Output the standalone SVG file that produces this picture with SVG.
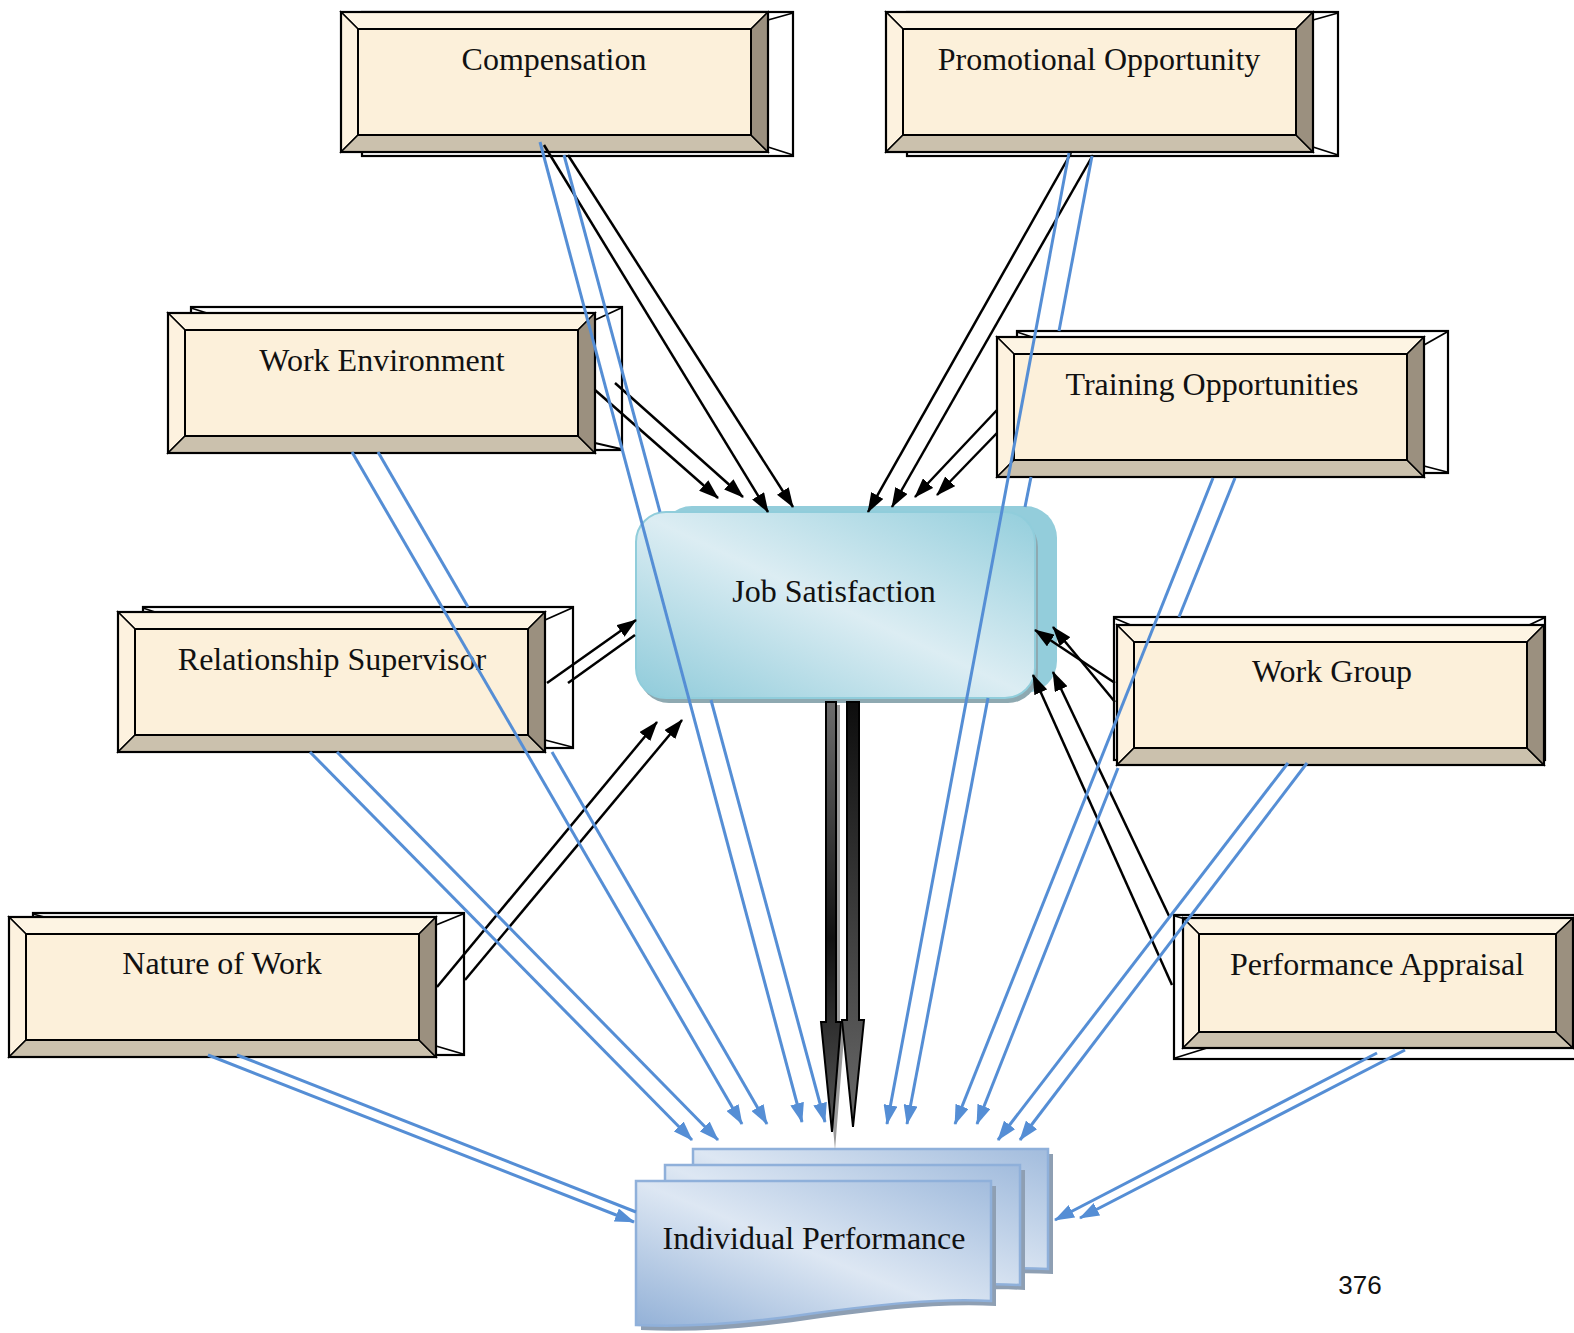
<svg xmlns="http://www.w3.org/2000/svg" width="1574" height="1333" viewBox="0 0 1574 1333">
<style>
.t{font-family:"Liberation Serif","Times New Roman",serif;font-size:32px;fill:#111;text-anchor:middle}
.face{fill:#fcf0da}
.bt{fill:#fdf4e3;stroke:#000;stroke-width:1.5}
.bl{fill:#fdf2df;stroke:#000;stroke-width:1.5}
.bb{fill:#cbc1ad;stroke:#000;stroke-width:1.5}
.br{fill:#9b907f;stroke:#000;stroke-width:1.5}
.in{fill:#fcf0da;stroke:#000;stroke-width:2}
.ol{fill:none;stroke:#000;stroke-width:2.2}
.back{fill:#fff;stroke:#000;stroke-width:2.2}
.dg{stroke:#000;stroke-width:1.8;fill:none}
.k{stroke:#000;stroke-width:2.5;fill:none}
.b{stroke:#558ed5;stroke-width:3;fill:none}
.doc{stroke:#8fb0da;stroke-width:2.5}
</style>
<defs>
<linearGradient id="jsg" x1="0" y1="1" x2="1" y2="0">
<stop offset="0" stop-color="#8fcbda"/>
<stop offset="0.5" stop-color="#dcedf3"/>
<stop offset="1" stop-color="#93cedc"/>
</linearGradient>
<linearGradient id="ipg" x1="0" y1="1" x2="1" y2="0">
<stop offset="0" stop-color="#93b1d7"/>
<stop offset="0.5" stop-color="#dde7f3"/>
<stop offset="1" stop-color="#a2bcdd"/>
</linearGradient>
<linearGradient id="a1g" x1="0" y1="0" x2="0" y2="1">
<stop offset="0" stop-color="#6d6d6d"/>
<stop offset="0.55" stop-color="#111"/>
<stop offset="1" stop-color="#555"/>
</linearGradient>
<linearGradient id="a2g" x1="0" y1="0" x2="0" y2="1">
<stop offset="0" stop-color="#0d0d0d"/>
<stop offset="1" stop-color="#6a6a6a"/>
</linearGradient>
<marker id="ak" viewBox="0 0 20 14" refX="19" refY="7" markerWidth="20" markerHeight="14" markerUnits="userSpaceOnUse" orient="auto"><path d="M0,0 L20,7 L0,14 z" fill="#000"/></marker>
<marker id="au" viewBox="0 0 20 14" refX="19" refY="7" markerWidth="20" markerHeight="14" markerUnits="userSpaceOnUse" orient="auto"><path d="M0,0 L20,7 L0,14 z" fill="#558ed5"/></marker>
<g id="bev">
<rect x="0" y="0" width="427" height="140" class="face"/>
<polygon points="0,0 427,0 410,17 17,17" class="bt"/>
<polygon points="0,0 17,17 17,123 0,140" class="bl"/>
<polygon points="0,140 17,123 410,123 427,140" class="bb"/>
<polygon points="427,0 427,140 410,123 410,17" class="br"/>
<rect x="17" y="17" width="393" height="106" class="in"/>
<rect x="0" y="0" width="427" height="140" class="ol"/>
</g>
<g id="bevPA">
<rect x="0" y="0" width="390" height="130" class="face"/>
<polygon points="0,0 390,0 373,16 16,16" class="bt"/>
<polygon points="0,0 16,16 16,114 0,130" class="bl"/>
<polygon points="0,130 16,114 373,114 390,130" class="bb"/>
<polygon points="390,0 390,130 373,114 373,16" class="br"/>
<rect x="16" y="16" width="357" height="98" class="in"/>
<rect x="0" y="0" width="390" height="130" class="ol"/>
</g>
<path id="docp" d="M0,0 H355 V120 C300,117 240,124 180,132 C120,141 60,147 0,144 Z"/>
</defs>
<rect width="1574" height="1333" fill="#fff"/>

<g id="compensation">
<rect x="362" y="12" width="431" height="144" class="back"/>
<line x1="768" y1="20" x2="793" y2="13" class="dg"/>
<line x1="768" y1="147" x2="793" y2="155" class="dg"/>
<use href="#bev" x="341" y="12"/>
<text x="554" y="70" class="t">Compensation</text>
</g>

<g id="promotional-opportunity">
<rect x="907" y="12" width="431" height="144" class="back"/>
<line x1="1313" y1="20" x2="1338" y2="13" class="dg"/>
<line x1="1313" y1="147" x2="1338" y2="155" class="dg"/>
<use href="#bev" x="886" y="12"/>
<text x="1099" y="70" class="t">Promotional Opportunity</text>
</g>

<g id="work-environment">
<rect x="191" y="307" width="431" height="143" class="back"/>
<line x1="191" y1="308" x2="210" y2="314" class="dg"/>
<line x1="595" y1="320" x2="621" y2="308" class="dg"/>
<line x1="595" y1="443" x2="621" y2="449" class="dg"/>
<use href="#bev" x="168" y="313"/>
<text x="382" y="371" class="t">Work Environment</text>
</g>

<g id="relationship-supervisor">
<rect x="143" y="607" width="430" height="141" class="back"/>
<line x1="143" y1="608" x2="158" y2="613" class="dg"/>
<line x1="545" y1="620" x2="572" y2="608" class="dg"/>
<line x1="545" y1="740" x2="572" y2="747" class="dg"/>
<use href="#bev" x="118" y="612"/>
<text x="332" y="670" class="t">Relationship Supervisor</text>
</g>

<g id="nature-of-work">
<rect x="33" y="913" width="431" height="142" class="back"/>
<line x1="33" y1="914" x2="48" y2="918" class="dg"/>
<line x1="436" y1="925" x2="463" y2="914" class="dg"/>
<line x1="436" y1="1046" x2="463" y2="1054" class="dg"/>
<use href="#bev" x="9" y="917"/>
<text x="222" y="974" class="t">Nature of Work</text>
</g>

<g id="training-opportunities">
<rect x="1017" y="331" width="431" height="142" class="back"/>
<line x1="1017" y1="332" x2="1032" y2="337" class="dg"/>
<line x1="1424" y1="345" x2="1447" y2="332" class="dg"/>
<line x1="1424" y1="466" x2="1447" y2="472" class="dg"/>
<use href="#bev" x="997" y="337"/>
<text x="1212" y="395" class="t">Training Opportunities</text>
</g>

<g id="work-group">
<rect x="1114" y="617" width="431" height="143" class="back"/>
<line x1="1114" y1="618" x2="1133" y2="626" class="dg"/>
<line x1="1527" y1="626" x2="1544" y2="618" class="dg"/>
<use href="#bev" x="1117" y="625"/>
<text x="1332" y="682" class="t">Work Group</text>
</g>

<g id="performance-appraisal">
<rect x="1174" y="915" width="420" height="144" class="back"/>
<line x1="1175" y1="916" x2="1185" y2="919" class="dg"/>
<line x1="1175" y1="1058" x2="1207" y2="1048" class="dg"/>
<use href="#bevPA" x="1183" y="918"/>
<text x="1377" y="975" class="t">Performance Appraisal</text>
</g>

<g id="job-satisfaction">
<rect x="660" y="506" width="397" height="187" rx="32" fill="#93cddb"/>
<rect x="639" y="517" width="399" height="186" rx="30" fill="#8ea9b1"/>
<rect x="636" y="512" width="399" height="186" rx="30" fill="url(#jsg)" stroke="#90cddb" stroke-width="2"/>
<text x="834" y="602" class="t">Job Satisfaction</text>
</g>

<g id="individual-performance">
<use href="#docp" x="698" y="1154" fill="#8e9fb3"/>
<use href="#docp" x="693" y="1149" fill="url(#ipg)" class="doc"/>
<use href="#docp" x="670" y="1170" fill="#8e9fb3"/>
<use href="#docp" x="665" y="1165" fill="url(#ipg)" class="doc"/>
<use href="#docp" x="641" y="1186" fill="#8e9fb3"/>
<use href="#docp" x="636" y="1181" fill="url(#ipg)" class="doc"/>
<text x="814" y="1249" class="t">Individual Performance</text>
</g>

<g id="connectors">
<line x1="544" y1="145" x2="768" y2="512" class="k" marker-end="url(#ak)"/>
<line x1="568" y1="155" x2="793" y2="507" class="k" marker-end="url(#ak)"/>
<line x1="595" y1="390" x2="718" y2="498" class="k" marker-end="url(#ak)"/>
<line x1="615" y1="383" x2="743" y2="497" class="k" marker-end="url(#ak)"/>
<line x1="1071" y1="153" x2="868" y2="512" class="k" marker-end="url(#ak)"/>
<line x1="1093" y1="155" x2="892" y2="507" class="k" marker-end="url(#ak)"/>
<line x1="997" y1="410" x2="915" y2="497" class="k" marker-end="url(#ak)"/>
<line x1="997" y1="433" x2="937" y2="495" class="k" marker-end="url(#ak)"/>
<line x1="547" y1="683" x2="636" y2="620" class="k" marker-end="url(#ak)"/>
<line x1="568" y1="683" x2="635" y2="635" class="k"/>
<line x1="437" y1="987" x2="657" y2="722" class="k" marker-end="url(#ak)"/>
<line x1="465" y1="980" x2="682" y2="720" class="k" marker-end="url(#ak)"/>
<line x1="1115" y1="683" x2="1035" y2="630" class="k" marker-end="url(#ak)"/>
<line x1="1115" y1="702" x2="1053" y2="627" class="k" marker-end="url(#ak)"/>
<line x1="1172" y1="985" x2="1033" y2="675" class="k" marker-end="url(#ak)"/>
<line x1="1170" y1="918" x2="1053" y2="672" class="k" marker-end="url(#ak)"/>
<line x1="540" y1="142" x2="802" y2="1122" class="b" marker-end="url(#au)"/>
<line x1="564" y1="155" x2="660" y2="512" class="b"/>
<line x1="711" y1="700" x2="825" y2="1122" class="b" marker-end="url(#au)"/>
<line x1="1069" y1="153" x2="887" y2="1124" class="b" marker-end="url(#au)"/>
<line x1="1092" y1="156" x2="1059" y2="331" class="b"/>
<line x1="1031" y1="477" x2="1025" y2="507" class="b"/>
<line x1="988" y1="698" x2="907" y2="1124" class="b" marker-end="url(#au)"/>
<line x1="1213" y1="478" x2="955" y2="1124" class="b" marker-end="url(#au)"/>
<line x1="1235" y1="478" x2="1179" y2="617" class="b"/>
<line x1="1118" y1="768" x2="977" y2="1124" class="b" marker-end="url(#au)"/>
<line x1="1288" y1="763" x2="998" y2="1140" class="b" marker-end="url(#au)"/>
<line x1="1307" y1="763" x2="1020" y2="1140" class="b" marker-end="url(#au)"/>
<line x1="352" y1="452" x2="742" y2="1124" class="b" marker-end="url(#au)"/>
<line x1="378" y1="452" x2="468" y2="607" class="b"/>
<line x1="552" y1="752" x2="767" y2="1124" class="b" marker-end="url(#au)"/>
<line x1="310" y1="752" x2="692" y2="1140" class="b" marker-end="url(#au)"/>
<line x1="337" y1="752" x2="718" y2="1140" class="b" marker-end="url(#au)"/>
<line x1="208" y1="1055" x2="634" y2="1222" class="b" marker-end="url(#au)"/>
<line x1="237" y1="1055" x2="636" y2="1212" class="b"/>
<line x1="1377" y1="1053" x2="1055" y2="1220" class="b" marker-end="url(#au)"/>
<line x1="1405" y1="1050" x2="1080" y2="1218" class="b" marker-end="url(#au)"/>
<polygon points="830,705 840,705 840,1025 845,1025 835,1150 824,1025 830,1025" fill="#9a9a9a"/>
<polygon points="826,702 836,702 836,1022 841,1022 832,1132 821,1022 826,1022" fill="url(#a1g)" stroke="#000" stroke-width="2"/>
<polygon points="847,702 859,702 859,1020 864,1020 853,1127 842,1020 847,1020" fill="url(#a2g)" stroke="#000" stroke-width="2"/>
</g>

<text x="1360" y="1294" font-family="'Liberation Sans','Open Sans',sans-serif" font-size="26" fill="#111" text-anchor="middle">376</text>
</svg>
